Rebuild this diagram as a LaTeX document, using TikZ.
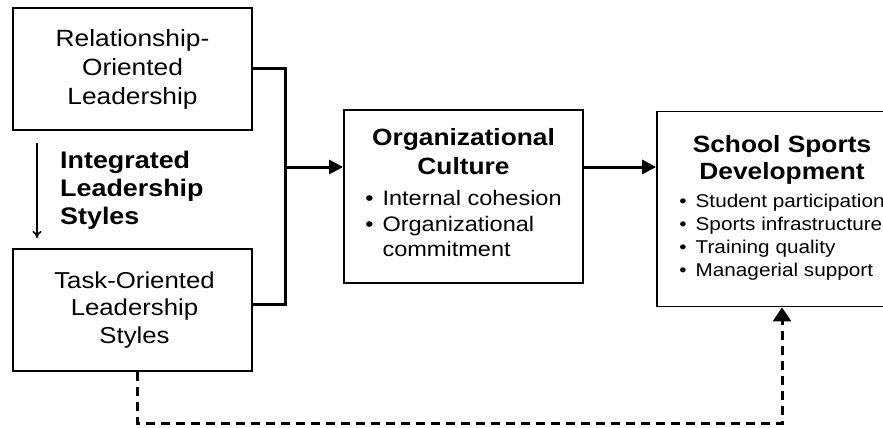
\documentclass[tikz,border=0pt]{standalone}
\usepackage{fontspec}
\setmainfont{Liberation Sans}[FakeStretch=1.12]
\usetikzlibrary{arrows.meta, positioning}

\newcommand{\boxtitle}[1]{{\bfseries\fontsize{23.5}{27}\selectfont #1}}

\begin{document}
\begin{tikzpicture}[x=1pt, y=-1pt,
    boxnode/.style={draw, line width=1.8pt, inner sep=0pt, align=center},
    link/.style={line width=3pt},
    head/.style={-{Triangle[length=14pt, width=14pt]}}]
        \useasboundingbox (0,0) rectangle (883,428);
        \clip (0,0) rectangle (883,428);

        \node[boxnode, minimum width=239pt, minimum height=122pt,
            font=\fontsize{23.5}{29}\selectfont] (rel) at (132.5, 69)
            {Relationship-\\Oriented\\Leadership};
        \node[boxnode, minimum width=239pt, minimum height=122pt,
            font=\fontsize{23}{27.5}\selectfont] (task) at (132.5, 310)
            {\hspace{4pt}Task-Oriented\\\hspace{4pt}Leadership\\\hspace{4pt}Styles};
        \node[boxnode, minimum width=239pt, minimum height=173pt,
            font=\fontsize{21}{25.5}\selectfont] (culture) at (463.5, 196.5)
            {\boxtitle{Organizational}\\[3pt]\boxtitle{Culture}\\[6pt]
            \begin{tabular}[t]{@{}l@{\hspace{9pt}}l@{}}
                \textbullet & Internal cohesion\\
                \textbullet & Organizational\\
                 & commitment
            \end{tabular}};
        \node[boxnode, minimum width=250pt, minimum height=195pt,
            font=\fontsize{18.5}{23}\selectfont] (sports) at (782, 209)
            {\boxtitle{School Sports}\\[4pt]\boxtitle{Development}\\[5pt]
            \begin{tabular}[t]{@{}l@{\hspace{9pt}}l@{}}
                \textbullet & Student participation\\
                \textbullet & Sports infrastructure\\
                \textbullet & Training quality\\
                \textbullet & Managerial support
            \end{tabular}};

        \node[anchor=north west, inner sep=0pt, align=left,
            font=\bfseries\fontsize{24}{28}\selectfont] (styles) at (60, 150.5)
            {Integrated\\Leadership\\Styles};

        \coordinate (join) at (285, 167);
        \coordinate (top) at (37, 143);
        \coordinate (bottom) at (37, 238);

        \draw[link] (rel.east) -| (join);
        \draw[link] (task.east) ++(0,-6) -| (join);
        \draw[link, head] (join) -- (join -| culture.west);
        \draw[link, head] (join -| culture.east) -- (join -| sports.west);
        \draw[line width=1.6pt, -{To[length=7pt, width=9pt]}] (top) -- (bottom);
        \draw[link, dashed, dash pattern=on 9pt off 6pt,
            -{Triangle[length=14pt, width=18pt]}]
            (task.south) ++(5,0) -- ++(0, 52) -| (sports.south);
\end{tikzpicture}
\end{document}
